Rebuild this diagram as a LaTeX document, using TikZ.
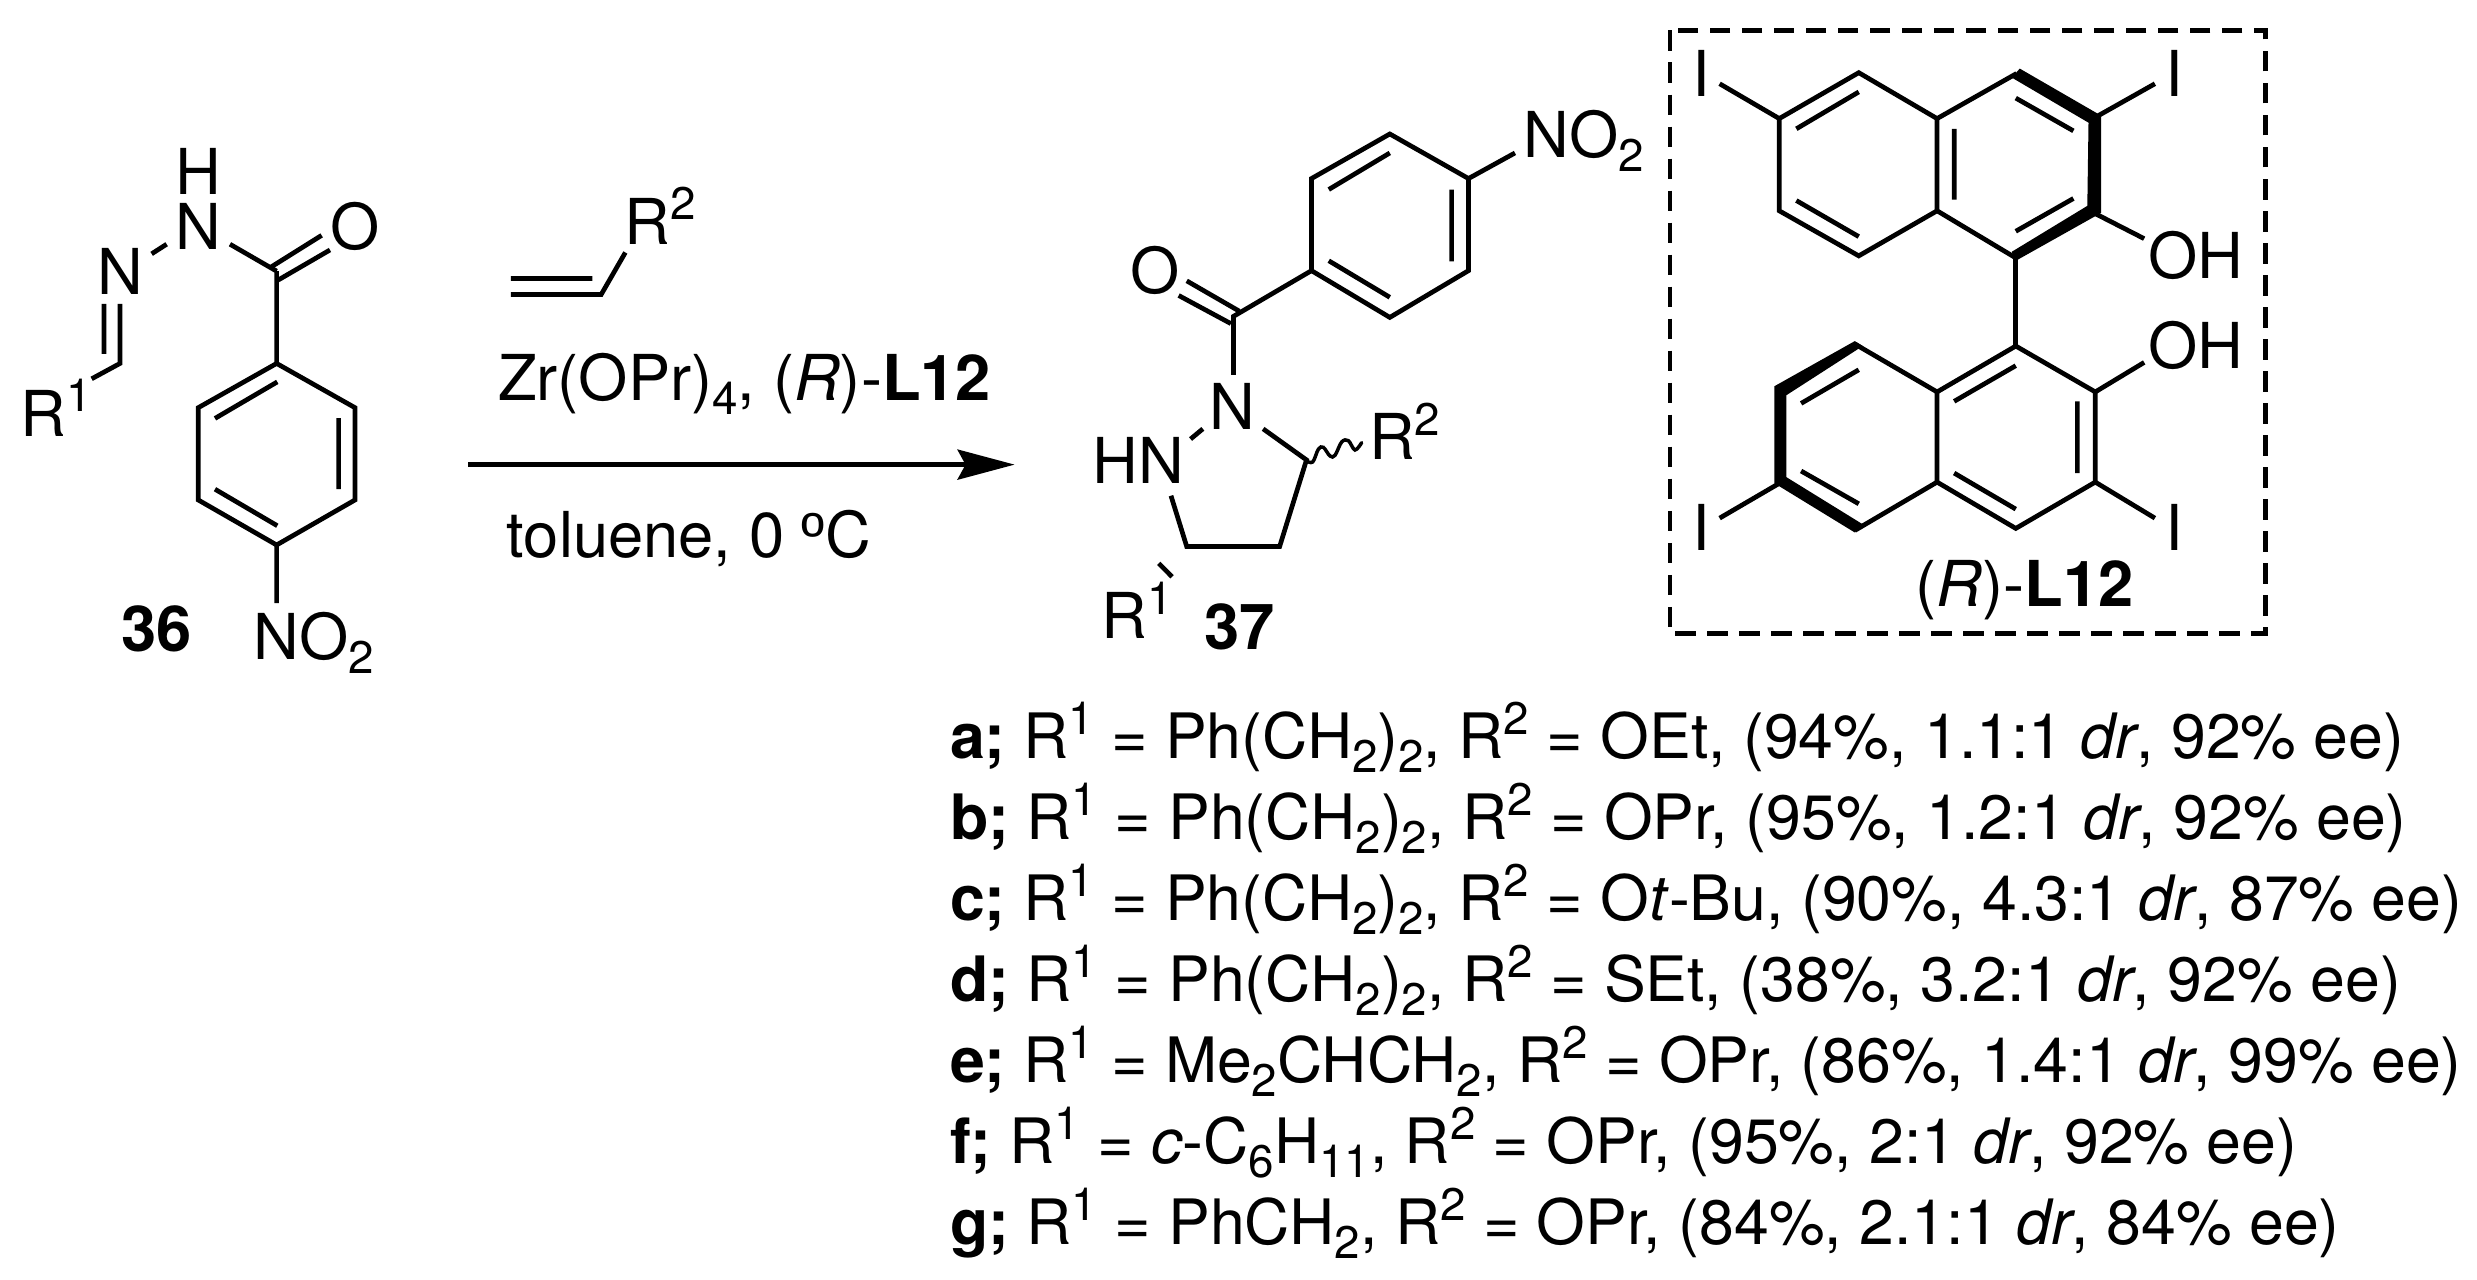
\documentclass[tikz,border=0pt]{standalone}
\usepackage{fontspec}
\setmainfont{TeX Gyre Heros}
\newfontfamily\degfont{Liberation Sans}
\usetikzlibrary{arrows.meta}
\newcommand{\chup}[1]{\raisebox{0.39em}{\fontsize{13pt}{13pt}\selectfont #1}}
\newcommand{\chdn}[1]{\raisebox{-0.22em}{\fontsize{13pt}{13pt}\selectfont #1}}
\tikzset{
  bond/.style={line width=0.047cm,line join=miter,line cap=butt},
  lab/.style={inner sep=0,outer sep=0,anchor=base west,font=\fontsize{18pt}{20pt}\selectfont},
  labc/.style={lab,anchor=base},
  bear/.style={xshift=-0.045cm},
  bearo/.style={xshift=-0.025cm},
  z1/.style={shift={(0,100)},xscale=0.3333,yscale=0.3846},
  z2/.style={shift={(1080,100)},xscale=0.3839,yscale=0.3654},
  z3/.style={shift={(1660,10)},xscale=0.3975,yscale=0.4098},
  z4/.style={shift={(450,170)},xscale=0.3846,yscale=0.3367},
}
\begin{document}
\begin{tikzpicture}[x=0.01cm,y=-0.01cm]
\useasboundingbox (0,0) rectangle (2477,1280);
\fill[white] (0,0) rectangle (2477,1280);

% ---- 36
\begin{scope}[z1]
\node[labc] (aH) at (595,247) {H};
\node[labc] (aNH) at (595,388) {N};
\node[labc] (aN) at (360,505) {N};
\node[lab,bearo] (aO) at (998,388) {O};
\node[lab,bear] (aR) at (75,875) {R\chup{1}};
\node[lab,bear] (aNO) at (775,1455) {NO\chdn{2}};
\node[lab,font=\fontsize{18pt}{20pt}\selectfont\bfseries] (a36) at (365,1435) {36};
\coordinate (a1) at (830,685); \coordinate (a2) at (595,800); \coordinate (a3) at (595,1040);
\coordinate (a4) at (830,1157); \coordinate (a5) at (1065,1040); \coordinate (a6) at (1065,800);
\coordinate (aC) at (830,445); \coordinate (aCi) at (360,685);
\draw[bond] (a1)--(a2)--(a3)--(a4)--(a5)--(a6)--cycle;
\draw[bond] (645,828)--(832,733) (1016,827)--(1016,1012) (645,1012)--(832,1107);
\draw[bond] (a1)--(aC) (aC)--(690,375) (a4)--(830,1308);
\draw[bond] (812,435)--(965,352) (835,468)--(990,390);
\draw[bond] (360,530)--(aCi)--(275,725) (312,530)--(312,660);
\draw[bond] (455,400)--(500,375);
\end{scope}

% ---- reagents and arrow
\begin{scope}[z4]
\node[lab,bear] (rR) at (465,220) {R\chup{2}};
\node[lab] (rZr) at (125,685) {Zr(OPr)\chdn{4}, (\textit{R})-\textbf{L12}};
\node[lab] (rT) at (148,1150) {toluene, 0 {\degfont º}C};
\coordinate (rC) at (393,370);
\draw[bond] (158,370)--(rC)--(456,245) (158,322)--(370,322);
\coordinate (arS) at (48,875); \coordinate (arE) at (1468,875);
\draw[bond,-{Stealth[length=0.57cm,width=0.30cm,inset=0.08cm]}] (arS)--(arE);
\end{scope}

% ---- 37
\begin{scope}[z2]
\node[lab,bear] (bNO) at (1168,158) {NO\chdn{2}};
\node[lab,bearo] (bO) at (137,530) {O};
\node[labc] (bN) at (397,903) {N};
\node[lab,bear] (bHN) at (45,1050) {HN};
\node[lab,bear] (bR2) at (765,985) {R\chup{2}};
\node[lab,bear] (bR1) at (68,1475) {R\chup{1}};
\node[lab,font=\fontsize{18pt}{20pt}\selectfont\bfseries] (b37) at (325,1505) {37};
\coordinate (b1) at (807,93); \coordinate (b2) at (1012,215); \coordinate (b3) at (1012,467);
\coordinate (b4) at (807,595); \coordinate (b5) at (603,467); \coordinate (b6) at (603,215);
\coordinate (bC) at (400,592); \coordinate (bP) at (590,985); \coordinate (bQ) at (520,1222); \coordinate (bS) at (278,1222);
\draw[bond] (b1)--(b2)--(b3)--(b4)--(b5)--(b6)--cycle;
\draw[bond] (648,245)--(807,145) (968,245)--(968,442) (648,440)--(807,540);
\draw[bond] (b2)--(1133,145) (b5)--(bC)--(400,752);
\draw[bond] (278,495)--(415,578) (257,535)--(393,612);
\draw[bond] (288,928)--(320,900);
\draw[bond] (477,900)--(bP)--(bQ)--(bS)--(237,1083);
\draw[bond] (205,1268)--(240,1305);
\end{scope}
\begin{scope}[shift={(1290,420)},scale=0.3333]
\draw[line width=0.035cm,line cap=round] plot[smooth,tension=0.6] coordinates {(48,122)(68,126)(85,88)(100,82)(120,108)(135,106)(155,66)(175,62)(195,90)(215,68)};
\end{scope}

% ---- L12
\begin{scope}[z3]
\coordinate (bx1) at (25,50); \coordinate (bx2) at (1523,1522);
\draw[line width=0.045cm,dash pattern=on 0.205cm off 0.115cm] (bx1) rectangle (bx2);
\node[labc] (cI1) at (105,210) {I};
\node[labc] (cI2) at (1293,210) {I};
\node[labc] (cI3) at (105,1320) {I};
\node[labc] (cI4) at (1293,1320) {I};
\node[lab,bearo] (cOH1) at (1235,655) {OH};
\node[lab,bearo] (cOH2) at (1235,875) {OH};
\node[lab,bearo] (cL) at (650,1455) {(\textit{R})-\textbf{L12}};
% upper naphthyl
\coordinate (u1) at (300,265); \coordinate (u2) at (500,153); \coordinate (u3) at (697,265);
\coordinate (u4) at (697,490); \coordinate (u5) at (500,600); \coordinate (u6) at (300,490);
\coordinate (u7) at (897,155); \coordinate (u8) at (1095,262); \coordinate (u9) at (1095,497); \coordinate (u10) at (895,605);
\draw[bond] (u1)--(u2)--(u3)--(u4)--(u5)--(u6)--cycle;
\draw[bond] (u3)--(u7) (u4)--(u10);
\fill (905,143)--(1110,258)--(1110,495)--(895,612)--(885,590)--(1075,478)--(1078,275)--(885,165)--cycle;
\draw[bond] (343,290)--(500,200) (343,465)--(500,553) (740,290)--(740,463) (895,215)--(1040,295) (895,540)--(1040,460);
\draw[bond] (u1)--(150,180) (u8)--(1245,180) (u9)--(1218,558);
% biaryl
\coordinate (l1) at (895,820);
\draw[bond] (u10)--(l1);
% lower naphthyl
\coordinate (l2) at (1095,932); \coordinate (l3) at (1095,1152); \coordinate (l4) at (895,1265);
\coordinate (l5) at (697,1152); \coordinate (l6) at (697,932);
\coordinate (l7) at (490,815); \coordinate (l8) at (300,925); \coordinate (l9) at (300,1155); \coordinate (l10) at (490,1270);
\draw[bond] (l1)--(l2)--(l3)--(l4)--(l5)--(l6)--cycle;
\draw[bond] (l6)--(l7) (l5)--(l10);
\fill (490,808)--(510,820)--(318,940)--(318,1140)--(510,1255)--(490,1275)--(288,1155)--(288,918)--cycle;
\draw[bond] (355,960)--(500,878) (355,1125)--(500,1205) (740,955)--(895,868) (1050,955)--(1050,1130) (740,1130)--(895,1218);
\draw[bond] (l9)--(150,1240) (l3)--(1245,1240) (l2)--(1218,860);
\end{scope}

% ---- list
\tikzset{lst/.style={lab,font=\fontsize{17.8pt}{20pt}\selectfont}}
\node[lst] (la) at (950,759) {\textbf{a;} R\chup{1} = Ph(CH\chdn{2})\chdn{2}, R\chup{2} = OEt, (94\%, 1.1:1 \textit{dr}, 92\% ee)};
\node[lst] (lb) at (950,840) {\textbf{b;} R\chup{1} = Ph(CH\chdn{2})\chdn{2}, R\chup{2} = OPr, (95\%, 1.2:1 \textit{dr}, 92\% ee)};
\node[lst] (lc) at (950,921) {\textbf{c;} R\chup{1} = Ph(CH\chdn{2})\chdn{2}, R\chup{2} = O\textit{t}-Bu, (90\%, 4.3:1 \textit{dr}, 87\% ee)};
\node[lst] (ld) at (950,1002) {\textbf{d;} R\chup{1} = Ph(CH\chdn{2})\chdn{2}, R\chup{2} = SEt, (38\%, 3.2:1 \textit{dr}, 92\% ee)};
\node[lst] (le) at (950,1083) {\textbf{e;} R\chup{1} = Me\chdn{2}CHCH\chdn{2}, R\chup{2} = OPr, (86\%, 1.4:1 \textit{dr}, 99\% ee)};
\node[lst] (lf) at (950,1164) {\textbf{f;} R\chup{1} = \textit{c}-C\chdn{6}H\chdn{11}, R\chup{2} = OPr, (95\%, 2:1 \textit{dr}, 92\% ee)};
\node[lst] (lg) at (950,1245) {\textbf{g;} R\chup{1} = PhCH\chdn{2}, R\chup{2} = OPr, (84\%, 2.1:1 \textit{dr}, 84\% ee)};
\end{tikzpicture}
\end{document}
